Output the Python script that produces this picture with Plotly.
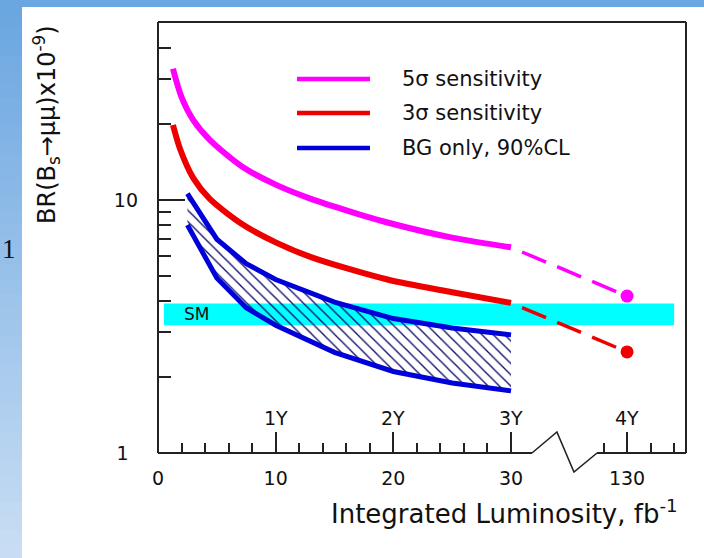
import math
import plotly.graph_objects as go

# ---------------- data ----------------
lum_5s = [1.27, 2.0, 3.0, 4.4, 7.2, 10.0, 13.0, 16.0, 19.5, 25.0, 30.0]
br_5s = [33.0, 25.5, 20.7, 17.3, 13.5, 11.5, 10.1, 9.1, 8.15, 7.1, 6.5]

lum_3s = [1.27, 1.9, 3.0, 4.4, 7.2, 10.0, 13.0, 19.5, 25.0, 30.0]
br_3s = [19.8, 15.8, 12.2, 10.1, 8.0, 6.8, 5.95, 4.85, 4.32, 3.92]

lum_bg = [2.5, 5.0, 7.5, 10.0, 15.0, 20.0, 25.0, 30.0]
br_bg_upper = [10.6, 7.0, 5.6, 4.85, 3.95, 3.4, 3.12, 2.93]
br_bg_lower = [7.96, 4.92, 3.75, 3.2, 2.5, 2.1, 1.89, 1.76]

lum_proj = [30, 130]
br_5s_proj = [6.5, 4.17]
br_3s_proj = [3.92, 2.51]

sm_lum = [0.5, 134.0]
sm_br = [3.2, 3.9]

x_tick_vals = [0, 10, 20, 30, 130]
x_tick_text = ["0", "10", "20", "30", "130"]
x_minor_vals = [2, 4, 6, 8, 12, 14, 16, 18, 22, 24, 26, 28, 128, 132, 134]
year_lum = [10, 20, 30, 130]
year_text = ["1Y", "2Y", "3Y", "4Y"]

y_tick_vals = [1, 10]
y_tick_text = ["1", "10"]
y_minor_vals = [2, 3, 4, 5, 6, 7, 8, 9, 20, 30, 40]

legend_labels = ["5\u03c3 sensitivity", "3\u03c3 sensitivity", "BG only, 90%CL"]

# ---------------- styling ----------------
MAGENTA = "#ff00ff"
RED = "#ee0000"
BLUE = "#0000d8"
HATCH = "#12126e"
CYAN = "#00ffff"
FRAME = "#222222"
FONT = "DejaVu Sans"

# broken x axis: 130 fb^-1 is drawn right after the 0-30 section
X_MAX = 44.87
BREAK_SHIFT = 90.14


def brk(v):
    return v - BREAK_SHIFT if v > 100 else v


fig = go.Figure()

# SM band
fig.add_trace(go.Scatter(
    x=[brk(sm_lum[0]), brk(sm_lum[1]), brk(sm_lum[1]), brk(sm_lum[0]), brk(sm_lum[0])],
    y=[sm_br[0], sm_br[0], sm_br[1], sm_br[1], sm_br[0]],
    mode="lines", fill="toself", fillcolor=CYAN, line=dict(width=0, color=CYAN),
    hoverinfo="skip", showlegend=False))

# BG-only band (hatched)
fig.add_trace(go.Scatter(
    x=lum_bg, y=br_bg_lower, mode="lines", line=dict(color=BLUE, width=5),
    showlegend=False))
fig.add_trace(go.Scatter(
    x=lum_bg, y=br_bg_upper, mode="lines", line=dict(color=BLUE, width=5),
    fill="tonexty", fillcolor="rgba(0,0,0,0)",
    fillpattern=dict(shape="\\", size=8, solidity=0.17, fgcolor=HATCH,
                     bgcolor="rgba(0,0,0,0)", fillmode="replace"),
    showlegend=False))

# 3 sigma and 5 sigma curves
fig.add_trace(go.Scatter(
    x=lum_3s, y=br_3s, mode="lines", line=dict(color=RED, width=6, shape="spline", smoothing=0.8),
    showlegend=False))
fig.add_trace(go.Scatter(
    x=lum_5s, y=br_5s, mode="lines", line=dict(color=MAGENTA, width=6, shape="spline", smoothing=0.8),
    showlegend=False))

# projections to 130 fb^-1
for br, col in ((br_5s_proj, MAGENTA), (br_3s_proj, RED)):
    fig.add_trace(go.Scatter(
        x=[brk(v) for v in lum_proj], y=br, mode="lines",
        line=dict(color=col, width=3.5, dash="0px,12px,26px,0px"),
        showlegend=False))
    fig.add_trace(go.Scatter(
        x=[brk(lum_proj[1])], y=[br[1]], mode="markers",
        marker=dict(color=col, size=13), showlegend=False))

# ---------------- decorations ----------------
shapes = []
# slide background (blue gradient bands in the margins)
top_c = (106, 166, 225)
bot_c = (200, 221, 243)
n = 40
y_lo, y_hi = -105 / 431, 453 / 431
for i in range(n):
    t = i / (n - 1)
    c = tuple(round(top_c[k] + (bot_c[k] - top_c[k]) * t) for k in range(3))
    ya = y_hi - (y_hi - y_lo) * i / n
    yb = y_hi - (y_hi - y_lo) * (i + 1) / n
    shapes.append(dict(type="rect", xref="paper", yref="paper",
                       x0=-158 / 528, x1=-136 / 528, y0=yb - 0.002, y1=ya,
                       fillcolor="rgb(%d,%d,%d)" % c, line=dict(width=0), layer="below"))
shapes.append(dict(type="rect", xref="paper", yref="paper",
                   x0=-158 / 528, x1=546 / 528, y0=446 / 431, y1=453 / 431,
                   fillcolor="rgb(%d,%d,%d)" % top_c, line=dict(width=0), layer="below"))

# frame
fl = dict(color=FRAME, width=2)
shapes.append(dict(type="line", xref="paper", yref="paper", x0=0, x1=0, y0=0, y1=1, line=fl))
shapes.append(dict(type="line", xref="paper", yref="paper", x0=0, x1=1, y0=1, y1=1, line=fl))
shapes.append(dict(type="line", xref="paper", yref="paper", x0=1, x1=1, y0=0, y1=1, line=fl))
# bottom axis with break
shapes.append(dict(type="line", xref="paper", yref="paper", x0=0, x1=31.78 / X_MAX, y0=0, y1=0, line=fl))
shapes.append(dict(type="line", xref="paper", yref="paper", x0=37.31 / X_MAX, x1=1, y0=0, y1=0, line=fl))
shapes.append(dict(type="path", xref="paper", yref="paper",
                   path="M %.4f,0 L %.4f,%.4f L %.4f,%.4f L %.4f,0" % (
                       31.78 / X_MAX, 33.9 / X_MAX, 21 / 431, 35.35 / X_MAX, -19 / 431, 37.31 / X_MAX),
                   line=dict(color=FRAME, width=1.6)))

# legend samples
leg_y = [374 / 431, 340 / 431, 305 / 431]
leg_col = [MAGENTA, RED, BLUE]
for yy, col in zip(leg_y, leg_col):
    shapes.append(dict(type="line", xref="paper", yref="paper",
                       x0=139 / 528, x1=212 / 528, y0=yy, y1=yy, line=dict(color=col, width=4.5)))

annotations = []
for yy, lab in zip(leg_y, legend_labels):
    annotations.append(dict(xref="paper", yref="paper", x=242 / 528, y=yy, text=lab,
                            showarrow=False, xanchor="left", yanchor="middle",
                            font=dict(family=FONT, size=21, color="#111")))
for v, t in zip(year_lum, year_text):
    annotations.append(dict(xref="x", yref="paper", x=brk(v), y=35 / 431, text=t,
                            showarrow=False, xanchor="center", yanchor="middle",
                            font=dict(family=FONT, size=19, color="#111")))
annotations.append(dict(xref="x", yref="y", x=2.0, y=math.log10(math.sqrt(sm_br[0] * sm_br[1])),
                        text="SM", showarrow=False, xanchor="left", yanchor="middle",
                        font=dict(family=FONT, size=17, color="#111")))
annotations.append(dict(xref="paper", yref="paper", x=(680 - 158) / 528, y=-59 / 431,
                        text="Integrated Luminosity, fb<sup>-1</sup>", showarrow=False,
                        xanchor="right", yanchor="middle",
                        font=dict(family=FONT, size=26, color="#111")))
annotations.append(dict(xref="paper", yref="paper", x=(46 - 158) / 528, y=(453 - 125) / 431,
                        text="BR(B<sub>s</sub>\u2192\u03bc\u03bc)x10<sup>-9</sup>)", showarrow=False,
                        textangle=-90, xanchor="center", yanchor="middle",
                        font=dict(family=FONT, size=24, color="#111")))
annotations.append(dict(xref="paper", yref="paper", x=(9 - 158) / 528, y=(453 - 249) / 431,
                        text="1", showarrow=False, xanchor="center", yanchor="middle",
                        font=dict(family="Liberation Serif", size=27, color="#111")))

# single-digit labels sit a little further left in the reference
y_tick_labels = [t + ("\u2002" if len(t) == 1 else "") for t in y_tick_text]

fig.update_layout(
    width=704, height=558,
    margin=dict(l=158, r=18, t=22, b=105, pad=0),
    paper_bgcolor="white", plot_bgcolor="white",
    showlegend=False,
    shapes=shapes, annotations=annotations,
    xaxis=dict(range=[0, X_MAX], showgrid=False, zeroline=False, showline=False,
               tickmode="array", tickvals=[brk(v) for v in x_tick_vals], ticktext=x_tick_text,
               ticks="inside", ticklen=21, tickwidth=1.5, tickcolor=FRAME,
               ticklabelstandoff=12,
               tickfont=dict(family=FONT, size=19, color="#111"),
               minor=dict(tickmode="array", tickvals=[brk(v) for v in x_minor_vals],
                          ticks="inside", ticklen=10, tickwidth=1.5, tickcolor=FRAME, showgrid=False)),
    yaxis=dict(type="log", range=[0, 1.7036], showgrid=False, zeroline=False, showline=False,
               tickmode="array", tickvals=y_tick_vals, ticktext=y_tick_labels,
               ticks="inside", ticklen=27, tickwidth=1.5, tickcolor=FRAME,
               ticklabelstandoff=19,
               tickfont=dict(family=FONT, size=19, color="#111"),
               minor=dict(tickmode="array", tickvals=y_minor_vals,
                          ticks="inside", ticklen=13, tickwidth=1.5, tickcolor=FRAME, showgrid=False)),
)

fig.write_html("out.html", config={"displayModeBar": False},
               post_script="document.body.style.margin='0px';")
